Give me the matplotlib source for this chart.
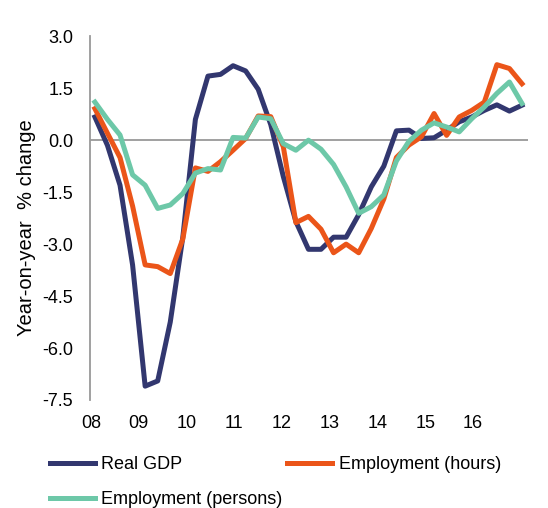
import numpy as np
import matplotlib.pyplot as plt

plt.rcParams['font.family'] = ['Liberation Sans', 'DejaVu Sans']

# quarterly, 2008Q1 .. 2016Q3 (year-on-year % change)
year_labels = ['08', '09', '10', '11', '12', '13', '14', '15', '16']

real_gdp = [0.67, -0.15, -1.3, -3.6, -7.1, -6.95, -5.25, -2.8, 0.6, 1.85,
            1.9, 2.15, 2.0, 1.47, 0.45, -1.05, -2.35, -3.15, -3.15, -2.8,
            -2.8, -2.15, -1.35, -0.75, 0.27, 0.29, 0.05, 0.07, 0.29, 0.53,
            0.67, 0.86, 1.02, 0.84, 1.01]

emp_hours = [0.91, 0.2, -0.5, -1.9, -3.6, -3.65, -3.85, -2.85, -0.8, -0.9,
             -0.62, -0.29, 0.05, 0.7, 0.68, -0.19, -2.38, -2.2, -2.57, -3.25,
             -3.0, -3.25, -2.55, -1.7, -0.5, -0.14, 0.1, 0.77, 0.14, 0.67,
             0.86, 1.1, 2.18, 2.07, 1.63]

emp_persons = [1.1, 0.6, 0.15, -1.0, -1.3, -1.97, -1.87, -1.54, -0.95, -0.82,
               -0.86, 0.08, 0.06, 0.67, 0.62, -0.1, -0.29, 0.0, -0.26, -0.7,
               -1.35, -2.11, -1.92, -1.58, -0.6, -0.03, 0.29, 0.5, 0.38, 0.24,
               0.62, 0.96, 1.35, 1.68, 1.06]

navy = '#32376F'
orange = '#EB5519'
teal = '#6DC8A8'

x = np.arange(len(real_gdp))

fig = plt.figure(figsize=(5.48, 5.08), dpi=100)
ax = fig.add_axes([0.164, 0.2126, 0.800, 0.716])

ax.axhline(0, color='#999999', lw=1.3, zorder=1)
l1, = ax.plot(x, real_gdp, color=navy, lw=3.6, label='Real GDP', zorder=2)
l2, = ax.plot(x, emp_hours, color=orange, lw=3.6, label='Employment (hours)', zorder=3)
l3, = ax.plot(x, emp_persons, color=teal, lw=3.6, label='Employment (persons)', zorder=4)

ax.set_xlim(-0.4, 34.5)
ax.set_ylim(-7.5, 3.0)
ax.set_yticks(np.arange(-7.5, 3.01, 1.5))
ax.set_yticklabels([f'{v:.1f}' for v in np.arange(-7.5, 3.01, 1.5)])
ax.set_xticks(np.linspace(-0.3, 30.1, 9))
ax.set_xticklabels(year_labels)

for s in ['top', 'right', 'bottom']:
    ax.spines[s].set_visible(False)
ax.spines['left'].set_color('#999999')
ax.spines['left'].set_linewidth(1.3)
ax.tick_params(axis='both', length=0, labelsize=13, colors='black')
ax.tick_params(axis='y', pad=12)
ax.tick_params(axis='x', pad=11)

ax.set_ylabel('Year-on-year  % change', fontsize=14.5)
ax.yaxis.set_label_coords(-0.123, 0.475)

fig.legend(handles=[l1, l3, l2], ncol=2, loc='upper left',
           bbox_to_anchor=(50 / 548, 1 - 456 / 508), frameon=False,
           fontsize=13, handlelength=2.5, handletextpad=0.35,
           columnspacing=0.25, labelspacing=1.0, borderpad=0, borderaxespad=0)

fig.savefig('out.png', dpi=100)
